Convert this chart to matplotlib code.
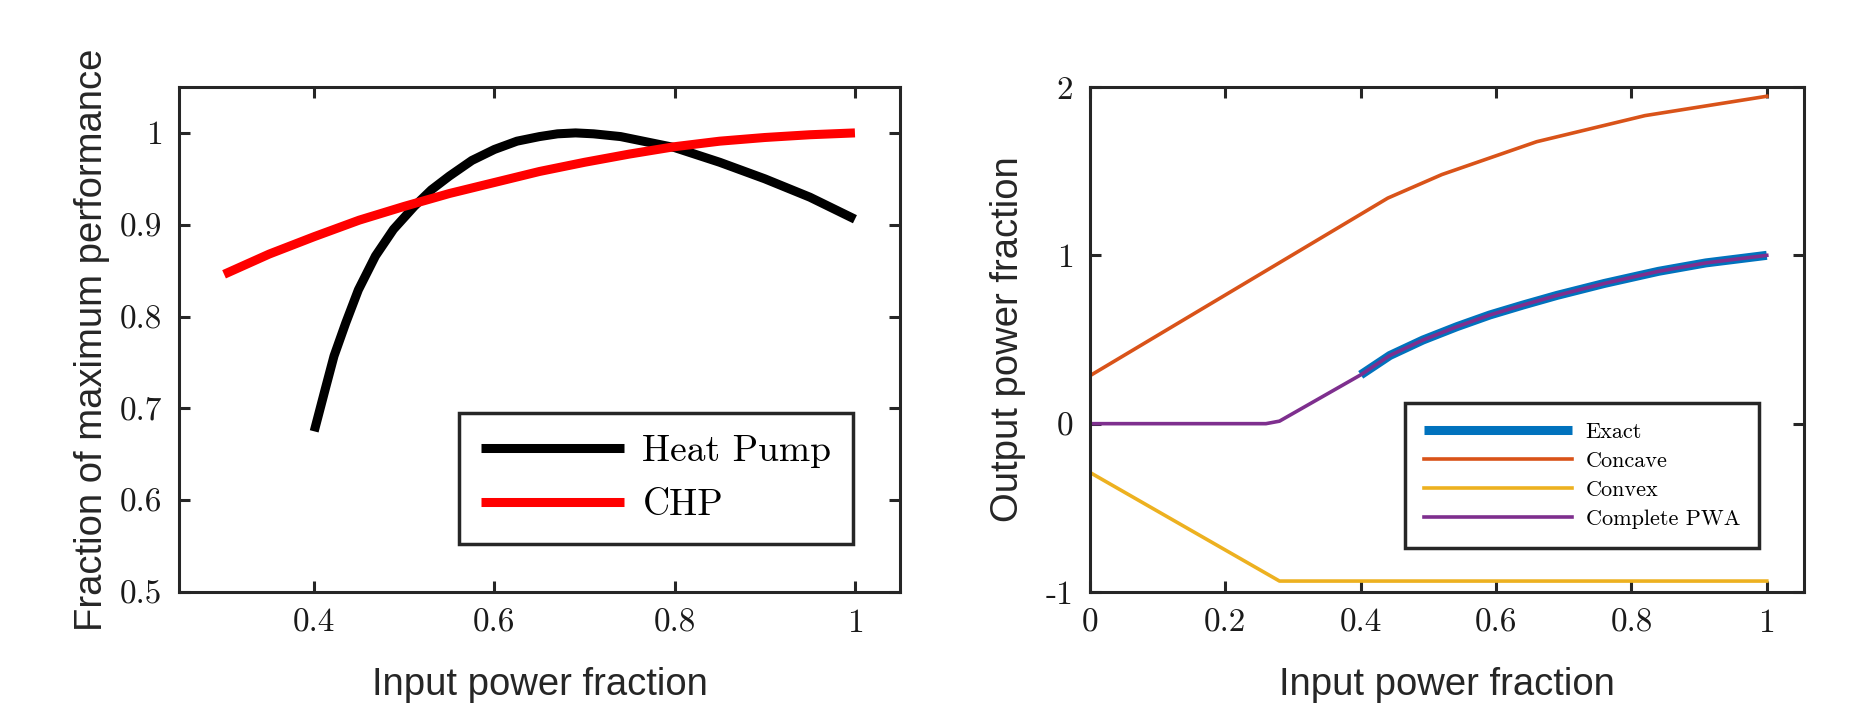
import matplotlib
matplotlib.use("Agg")
import matplotlib.pyplot as plt

# left panel: fraction of maximum performance
hp_x = [0.40, 0.412, 0.422, 0.435, 0.449, 0.468, 0.488, 0.511, 0.53, 0.55, 0.575, 0.60,
        0.625, 0.65, 0.67, 0.69, 0.71, 0.74, 0.77, 0.80, 0.85, 0.90, 0.95, 1.00]
hp_y = [0.675, 0.720, 0.757, 0.793, 0.829, 0.866, 0.895, 0.920, 0.938, 0.953, 0.970, 0.982,
        0.991, 0.996, 0.999, 1.0, 0.999, 0.996, 0.990, 0.984, 0.968, 0.950, 0.930, 0.906]
chp_x = [0.30, 0.35, 0.40, 0.45, 0.50, 0.55, 0.60, 0.65, 0.70, 0.75, 0.80, 0.85, 0.90, 0.95, 1.00]
chp_y = [0.846, 0.868, 0.887, 0.905, 0.920, 0.934, 0.946, 0.958, 0.968, 0.977, 0.985, 0.991, 0.995, 0.998, 1.0]

# right panel: output power fraction
exact_x = [0.40, 0.443, 0.492, 0.542, 0.591, 0.64, 0.69, 0.76, 0.84, 0.91, 1.0]
exact_y = [0.29, 0.405, 0.497, 0.576, 0.646, 0.705, 0.762, 0.833, 0.905, 0.955, 1.0]
concave_x = [0, 0.44, 0.52, 0.66, 0.82, 1.0]
concave_y = [0.285, 1.34, 1.48, 1.675, 1.83, 1.945]
convex_x = [0, 0.28, 1.0]
convex_y = [-0.29, -0.935, -0.935]
pwa_x = [0, 0.26, 0.28] + exact_x
pwa_y = [0, 0, 0.015] + exact_y

left_xticks = [0.4, 0.6, 0.8, 1]
left_xlabels = ["0.4", "0.6", "0.8", "1"]
left_yticks = [0.5, 0.6, 0.7, 0.8, 0.9, 1]
left_ylabels = ["0.5", "0.6", "0.7", "0.8", "0.9", "1"]
right_xticks = [0, 0.2, 0.4, 0.6, 0.8, 1]
right_xlabels = ["0", "0.2", "0.4", "0.6", "0.8", "1"]
right_yticks = [-1, 0, 1, 2]
right_ylabels = ["-1", "0", "1", "2"]

axcol = "#262626"
serif = "cmr10"
sans = "Liberation Sans"

fig = plt.figure(figsize=(18.51, 7.13), dpi=100)
W, H = 1851, 713
ax1 = fig.add_axes([179 / W, 1 - 592 / H, (900 - 179) / W, (592 - 87) / H])
ax2 = fig.add_axes([1090 / W, 1 - 592 / H, (1804 - 1090) / W, (592 - 87) / H])


def style(ax, xt, xl, yt, yl):
    for s in ax.spines.values():
        s.set_linewidth(2.2)
        s.set_color(axcol)
    ax.set_xticks(xt)
    ax.set_xticklabels(xl, fontfamily=serif, fontsize=24)
    ax.set_yticks(yt)
    ax.set_yticklabels(yl, fontfamily=serif, fontsize=24)
    ax.tick_params(direction="in", top=True, right=True, length=8, width=2.2,
                   color=axcol, labelcolor="#1a1a1a", pad=12)
    ax.set_xlabel("Input power fraction", fontfamily=sans, fontsize=27.5, labelpad=21,
                  color="#262626")


ax1.plot(hp_x, hp_y, color="black", lw=6.5, solid_capstyle="butt", label="Heat Pump")
ax1.plot(chp_x, chp_y, color="#ff0000", lw=6.5, solid_capstyle="butt", label="CHP")
ax1.set_xlim(0.25, 1.05)
ax1.set_ylim(0.5, 1.05)
style(ax1, left_xticks, left_xlabels, left_yticks, left_ylabels)
ax1.set_ylabel("Fraction of maximum performance", fontfamily=sans, fontsize=27.5,
               labelpad=7, color="#262626")
leg1 = ax1.legend(loc="lower right", bbox_to_anchor=(0.935, 0.095), borderaxespad=0,
                  prop={"family": serif, "size": 27}, handlelength=3.8,
                  handletextpad=0.5, labelspacing=0.56, borderpad=0.58,
                  fancybox=False, framealpha=1)
leg1.get_frame().set_edgecolor(axcol)
leg1.get_frame().set_linewidth(2.5)

ax2.plot(exact_x, exact_y, color="#0072BD", lw=6.5, solid_capstyle="butt", label="Exact")
ax2.plot(concave_x, concave_y, color="#D95319", lw=2.6, label="Concave")
ax2.plot(convex_x, convex_y, color="#EDB120", lw=2.6, label="Convex")
ax2.plot(pwa_x, pwa_y, color="#7E2F8E", lw=2.6, label="Complete PWA")
ax2.set_xlim(0, 1.055)
ax2.set_ylim(-1, 2)
style(ax2, right_xticks, right_xlabels, right_yticks, right_ylabels)
ax2.set_ylabel("Output power fraction", fontfamily=sans, fontsize=27.5,
               labelpad=14, color="#262626")
leg2 = ax2.legend(loc="lower right", bbox_to_anchor=(0.937, 0.087), borderaxespad=0,
                  prop={"family": serif, "size": 16}, handlelength=6.7,
                  handletextpad=0.6, labelspacing=0.43, borderpad=0.85,
                  fancybox=False, framealpha=1)
leg2.get_frame().set_edgecolor(axcol)
leg2.get_frame().set_linewidth(2.5)

fig.savefig("out.png", dpi=100)
